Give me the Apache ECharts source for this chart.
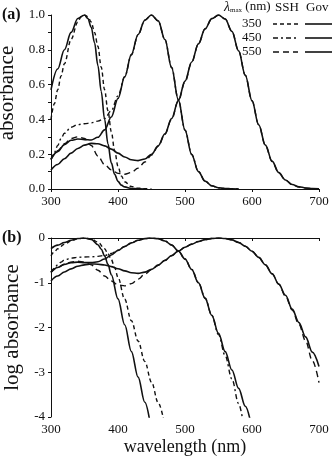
<!DOCTYPE html>
<html>
<head>
<meta charset="utf-8">
<script src="https://cdn.jsdelivr.net/npm/echarts@6/dist/echarts.min.js"></script>
<style>
  html, body { margin: 0; padding: 0; background: #fff; }
  #chart { width: 332px; height: 457px; }
</style>
</head>
<body>
<div id="chart"></div>
<script>
// wavelength (nm), absorbance
const gov350A = [[300,.57],[310,.69],[320,.80],[330,.90],[340,.98],[350,1.0],[355,.98],[360,.93],[365,.84],[370,.71],[375,.56],[380,.40],[385,.26],[390,.15],[395,.085],[400,.044],[405,.022],[410,.012],[420,.003],[430,.001],[440,0]]
const ssh350A = [[300,.40],[305,.49],[310,.57],[315,.65],[320,.72],[330,.86],[340,.96],[345,.99],[350,1.0],[355,.99],[360,.96],[365,.90],[370,.82],[375,.70],[380,.57],[385,.45],[390,.33],[395,.22],[400,.13],[405,.075],[410,.042],[420,.014],[430,.005],[440,.002],[450,0]]
const gov450A = [[300,.17],[310,.215],[320,.255],[330,.28],[340,.287],[350,.284],[360,.282],[370,.297],[380,.34],[390,.414],[400,.52],[410,.645],[420,.774],[430,.888],[440,.97],[450,1.0],[460,.966],[470,.859],[480,.697],[490,.513],[500,.338],[510,.197],[520,.10],[530,.045],[540,.019],[550,.007],[560,.003],[570,.001],[580,0]]
const ssh450A = [[300,.17],[305,.21],[310,.25],[315,.29],[320,.32],[330,.355],[340,.37],[350,.375],[360,.38],[370,.39],[380,.405],[390,.45],[400,.535],[410,.645],[420,.77],[430,.885],[440,.97],[450,1.0],[460,.966],[470,.86],[480,.70],[490,.515],[500,.34],[510,.20],[520,.10],[530,.045],[540,.018],[550,.007],[560,.002],[570,.001],[580,0]]
const gov550A = [[300,.109],[310,.141],[320,.174],[330,.206],[340,.233],[350,.252],[360,.262],[370,.26],[380,.248],[390,.229],[400,.206],[410,.184],[420,.168],[430,.163],[440,.172],[450,.20],[460,.248],[470,.317],[480,.405],[490,.508],[500,.62],[510,.73],[520,.834],[530,.921],[540,.979],[550,1.0],[560,.977],[570,.906],[580,.794],[590,.654],[600,.507],[610,.369],[620,.252],[630,.16],[640,.094],[650,.052],[660,.026],[670,.013],[680,.006],[690,.003],[700,.001]]
const ssh550A = [[300,.17],[310,.22],[320,.26],[330,.29],[340,.30],[350,.29],[360,.25],[370,.19],[380,.14],[390,.11],[400,.09],[410,.085],[420,.095],[430,.12],[440,.155],[450,.195],[460,.245],[470,.315],[480,.40],[490,.505],[500,.615],[510,.728],[520,.833],[530,.92],[540,.978],[550,1.0],[560,.977],[570,.906],[580,.794],[590,.654],[600,.507],[610,.369],[620,.25],[630,.158],[640,.092],[650,.05],[660,.025],[670,.011],[680,.005],[690,.002],[700,.001]]

// wavelength (nm), log absorbance
const gov350B = [[300,-0.24],[310,-0.16],[320,-0.10],[330,-0.05],[340,-0.01],[350,0],[360,-0.03],[370,-0.15],[375,-0.25],[380,-0.40],[385,-0.59],[390,-0.82],[400,-1.36],[410,-1.94],[420,-2.54],[430,-3.11],[440,-3.67],[447,-4.05]]
const ssh350B = [[300,-0.40],[305,-0.31],[310,-0.24],[320,-0.14],[330,-0.065],[340,-0.018],[350,0],[360,-0.02],[370,-0.09],[380,-0.24],[385,-0.35],[390,-0.48],[395,-0.66],[400,-0.88],[410,-1.37],[420,-1.85],[430,-2.3],[440,-2.76],[450,-3.22],[460,-3.68],[468,-4.05]]
const gov450B = [[300,-0.76],[310,-0.66],[320,-0.59],[330,-0.55],[340,-0.54],[350,-0.55],[360,-0.55],[370,-0.53],[380,-0.47],[390,-0.38],[400,-0.28],[410,-0.19],[420,-0.11],[430,-0.05],[440,-0.013],[450,0],[460,-0.015],[470,-0.066],[480,-0.157],[490,-0.29],[500,-0.47],[510,-0.705],[520,-1.0],[530,-1.35],[540,-1.73],[550,-2.13],[560,-2.54],[570,-2.95],[580,-3.36],[590,-3.76],[597,-4.05]]
const ssh450B = [[300,-0.77],[305,-0.68],[310,-0.6],[315,-0.54],[320,-0.49],[330,-0.45],[340,-0.43],[350,-0.425],[360,-0.42],[370,-0.41],[380,-0.39],[390,-0.345],[400,-0.27],[410,-0.19],[420,-0.113],[430,-0.053],[440,-0.013],[450,0],[460,-0.015],[470,-0.066],[480,-0.155],[490,-0.29],[500,-0.47],[510,-0.70],[520,-0.99],[530,-1.34],[540,-1.73],[550,-2.16],[560,-2.63],[570,-3.15],[580,-3.7],[586,-4.05]]
const gov550B = [[300,-0.96],[310,-0.85],[320,-0.76],[330,-0.69],[340,-0.63],[350,-0.60],[360,-0.58],[370,-0.585],[380,-0.605],[390,-0.64],[400,-0.686],[410,-0.735],[420,-0.775],[430,-0.79],[440,-0.763],[450,-0.70],[460,-0.606],[470,-0.5],[480,-0.39],[490,-0.294],[500,-0.208],[510,-0.137],[520,-0.079],[530,-0.036],[540,-0.009],[550,0],[560,-0.01],[570,-0.043],[580,-0.1],[590,-0.184],[600,-0.295],[610,-0.433],[620,-0.6],[630,-0.8],[640,-1.03],[650,-1.28],[660,-1.59],[670,-1.89],[680,-2.21],[690,-2.55],[700,-2.87]]
const ssh550B = [[300,-0.77],[310,-0.66],[320,-0.585],[330,-0.54],[340,-0.52],[350,-0.54],[360,-0.60],[370,-0.72],[380,-0.85],[390,-0.96],[400,-1.05],[410,-1.07],[420,-1.02],[430,-0.92],[440,-0.81],[450,-0.71],[460,-0.61],[470,-0.5],[480,-0.4],[490,-0.297],[500,-0.21],[510,-0.138],[520,-0.08],[530,-0.036],[540,-0.01],[550,0],[560,-0.01],[570,-0.043],[580,-0.1],[590,-0.184],[600,-0.295],[610,-0.433],[620,-0.6],[630,-0.8],[640,-1.035],[650,-1.3],[660,-1.61],[670,-1.93],[680,-2.3],[690,-2.74],[700,-3.23]]

const lambdaMax = ['350', '450', '550']

const font = "'Liberation Serif', 'Times New Roman', serif"
const ink = '#111'
const dash = {'350': [4, 3], '450': [5, 3, 2, 3], '550': [6, 4]}

function curve(data, idx, kind, lm) {
  return {
    type: 'line',
    xAxisIndex: idx,
    yAxisIndex: idx,
    data: data,
    showSymbol: false,
    smooth: 0.35,
    smoothMonotone: 'x',
    animation: false,
    lineStyle: {
      color: ink,
      width: kind === 'gov' ? 1.6 : 1.4,
      type: kind === 'gov' ? 'solid' : dash[lm],
    },
  }
}

function xAx(idx, withName) {
  return {
    gridIndex: idx,
    type: 'value',
    min: 300, max: 700, interval: 100,
    name: withName ? 'wavelength (nm)' : '',
    nameLocation: 'middle',
    nameGap: 21,
    nameTextStyle: { color: ink, fontFamily: font, fontSize: 18 },
    axisLine: { lineStyle: { color: ink, width: 1 } },
    axisTick: { length: 3, lineStyle: { color: ink } },
    axisLabel: { color: ink, fontFamily: font, fontSize: 13, margin: 6 },
    splitLine: { show: false },
  }
}

const chart = echarts.init(document.getElementById('chart'), null, { renderer: 'canvas' })

const legendGraphics = [
  {
    type: 'text', left: 224, top: 0,
    style: {
      text: '{l|λ}{s|max} (nm)',
      fill: ink, font: '13px ' + font,
      rich: {
        l: { fontFamily: font, fontSize: 14, fontStyle: 'italic', fill: ink },
        s: { fontFamily: font, fontSize: 7, fill: ink, padding: [6, 0, 0, 0] },
      },
    },
  },
  { type: 'text', left: 275, top: 1, style: { text: 'SSH', fill: ink, font: '13px ' + font } },
  { type: 'text', left: 306, top: 1, style: { text: 'Gov', fill: ink, font: '13px ' + font } },
]
lambdaMax.forEach((lm, i) => {
  const y = 24 + i * 14
  legendGraphics.push({ type: 'text', left: 242, top: y - 7, style: { text: lm, fill: ink, font: '13px ' + font } })
  legendGraphics.push({ type: 'line', shape: { x1: 273, y1: y, x2: 298, y2: y }, style: { stroke: ink, lineWidth: 1.4, lineDash: dash[lm] } })
  legendGraphics.push({ type: 'line', shape: { x1: 305, y1: y, x2: 332, y2: y }, style: { stroke: ink, lineWidth: 1.6 } })
})
legendGraphics.push({ type: 'text', left: 2, top: 7, style: { text: '(a)', fill: ink, font: 'bold 16px ' + font } })
legendGraphics.push({ type: 'text', left: 2, top: 230, style: { text: '(b)', fill: ink, font: 'bold 16px ' + font } })

const option = {
  backgroundColor: '#fff',
  animation: false,
  grid: [
    { left: 51, top: 15, width: 268, height: 174, containLabel: false, outerBoundsMode: 'none' },
    { left: 51, top: 238, width: 268, height: 179, containLabel: false, outerBoundsMode: 'none' },
  ],
  xAxis: [xAx(0, false), xAx(1, true)],
  yAxis: [
    {
      gridIndex: 0, type: 'value', min: 0, max: 1, interval: 0.2,
      name: 'absorbance', nameLocation: 'middle', nameGap: 20,
      nameTextStyle: { color: ink, fontFamily: font, fontSize: 21, padding: [0, 0, 0, 18] },
      axisLine: { show: true, lineStyle: { color: ink } },
      axisTick: { length: 3, lineStyle: { color: ink } },
      minorTick: { show: true, splitNumber: 2, length: 3, lineStyle: { color: ink } },
      axisLabel: { color: ink, fontFamily: font, fontSize: 13, margin: 6, formatter: v => v.toFixed(1) },
      splitLine: { show: false },
    },
    {
      gridIndex: 1, type: 'value', min: -4, max: 0, interval: 1,
      name: 'log absorbance', nameLocation: 'middle', nameGap: 21,
      nameTextStyle: { color: ink, fontFamily: font, fontSize: 21 },
      axisLine: { show: true, lineStyle: { color: ink } },
      axisTick: { length: 3, lineStyle: { color: ink } },
      axisLabel: { color: ink, fontFamily: font, fontSize: 13, margin: 6 },
      splitLine: { show: false },
    },
  ],
  graphic: legendGraphics,
  series: [
    curve(gov350A, 0, 'gov', '350'),
    curve(ssh350A, 0, 'ssh', '350'),
    curve(gov450A, 0, 'gov', '450'),
    curve(ssh450A, 0, 'ssh', '450'),
    curve(gov550A, 0, 'gov', '550'),
    curve(ssh550A, 0, 'ssh', '550'),
    curve(gov350B, 1, 'gov', '350'),
    curve(ssh350B, 1, 'ssh', '350'),
    curve(gov450B, 1, 'gov', '450'),
    curve(ssh450B, 1, 'ssh', '450'),
    curve(gov550B, 1, 'gov', '550'),
    curve(ssh550B, 1, 'ssh', '550'),
  ],
}
chart.setOption(option)
</script>
</body>
</html>
